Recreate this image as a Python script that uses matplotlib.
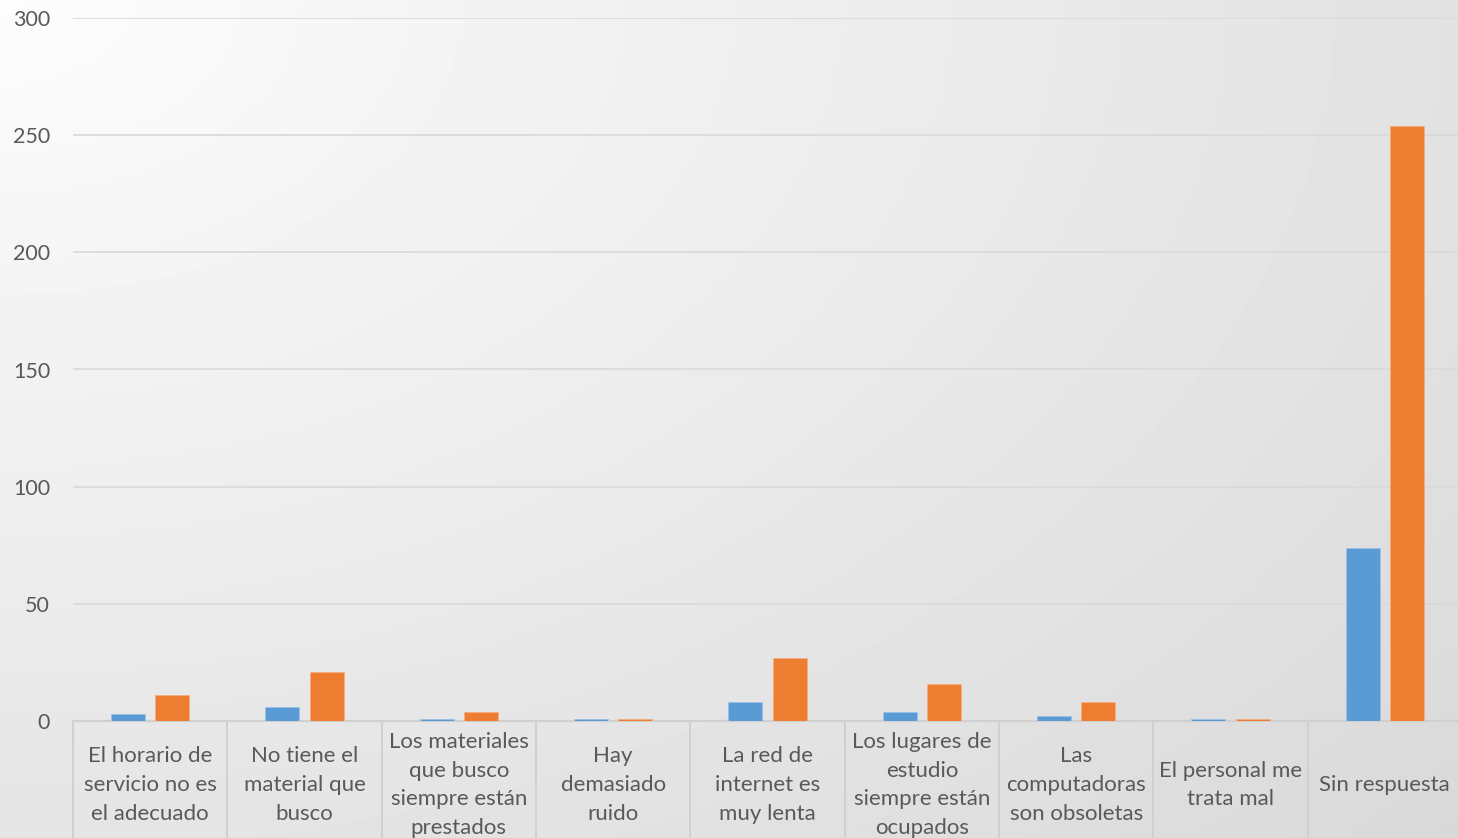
import numpy as np
import matplotlib.pyplot as plt
import matplotlib.transforms as mtransforms

categorias = [
    "El horario de\nservicio no es\nel adecuado",
    "No tiene el\nmaterial que\nbusco",
    "Los materiales\nque busco\nsiempre están\nprestados",
    "Hay\ndemasiado\nruido",
    "La red de\ninternet es\nmuy lenta",
    "Los lugares de\nestudio\nsiempre están\nocupados",
    "Las\ncomputadoras\nson obsoletas",
    "El personal me\ntrata mal",
    "Sin respuesta",
]
serie_azul = [3, 6, 1, 1, 8, 4, 2, 1, 74]
serie_naranja = [11, 21, 4, 1, 27, 16, 8, 1, 254]
y_ticks = [0, 50, 100, 150, 200, 250, 300]

plt.rcParams['font.family'] = ['Lato', 'DejaVu Sans']
gris_texto = '#595959'

W, H = 1458, 838
fig = plt.figure(figsize=(W / 100, H / 100), dpi=100)

# background gradient (white top-left -> light gray bottom-right)
bg = fig.add_axes([0, 0, 1, 1])
yy, xx = np.mgrid[0:1:200j, 0:1:300j]
d = np.sqrt((xx * 1.0) ** 2 + (yy * 0.9) ** 2) / np.sqrt(1 + 0.81)
bg.imshow(0.99 - 0.14 * d, cmap='gray', vmin=0, vmax=1, aspect='auto',
          extent=[0, 1, 0, 1], origin='upper')
bg.axis('off')

left, right = 73 / W, 1462 / W
bottom, top = 1 - 721 / H, 1 - 18 / H
ax = fig.add_axes([left, bottom, right - left, top - bottom])
ax.patch.set_alpha(0)

x = np.arange(len(categorias))
bw = 0.22
off = 0.143
ax.bar(x - off, serie_azul, bw, color='#5b9bd5', edgecolor='#9cc1e6', linewidth=0.6, zorder=3)
ax.bar(x + off, serie_naranja, bw, color='#ed7d31', edgecolor='#f4ae80', linewidth=0.6, zorder=3)

ax.set_xlim(-0.5, len(categorias) - 0.5)
ax.set_ylim(0, 300)
ax.set_yticks(y_ticks)
ax.set_xticks([])
ax.tick_params(axis='y', length=0, pad=16.5, labelsize=15.5, labelcolor=gris_texto)
ax.grid(axis='y', color='#d9d9d9', linewidth=1.2, zorder=0)
for s in ['top', 'right', 'left']:
    ax.spines[s].set_visible(False)
ax.spines['bottom'].set_color('#d0d0d0')
ax.spines['bottom'].set_linewidth(1.6)

# category boxes below the axis
trans = mtransforms.blended_transform_factory(ax.transData, ax.transAxes)
px = 1 / (721 - 18)
for i in range(len(categorias) + 1):
    ax.plot([i - 0.5, i - 0.5], [0, -140 * px], transform=trans, color='#d0d0d0',
            linewidth=1.4, clip_on=False)
for i, lab in enumerate(categorias):
    ax.text(i, -64 * px, lab, transform=trans, ha='center', va='center',
            fontsize=16, color=gris_texto, linespacing=1.56)

fig.savefig('out.png', dpi=100)
